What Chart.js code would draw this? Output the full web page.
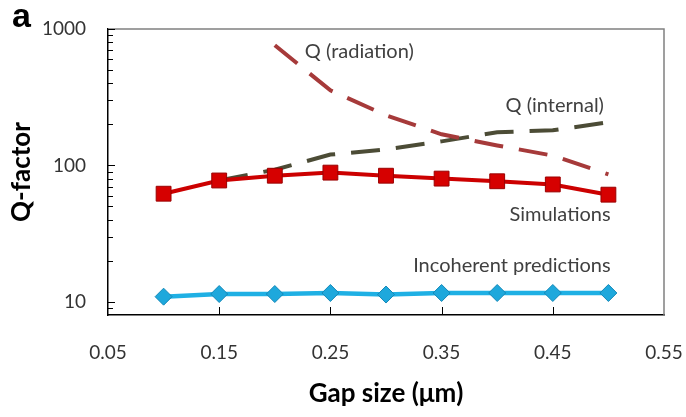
<!DOCTYPE html>
<html>
<head>
<meta charset="utf-8">
<script src="https://cdn.jsdelivr.net/npm/chart.js@4/dist/chart.umd.min.js"></script>
<style>
  html, body { margin: 0; padding: 0; background: #fff; }
  #wrap { width: 686px; height: 417px; }
</style>
</head>
<body>
<div id="wrap"><canvas id="qchart" width="686" height="417"></canvas></div>
<script>
const gapSizes = [0.1, 0.15, 0.2, 0.25, 0.3, 0.35, 0.4, 0.45, 0.5];
const simulations = [62, 77.5, 84, 88.5, 84, 80, 76.5, 72.5, 61];
const incoherent = [10.9, 11.4, 11.4, 11.6, 11.3, 11.6, 11.6, 11.6, 11.6];
const qRadiationGap = [0.2, 0.25, 0.3, 0.35, 0.4, 0.45, 0.5];
const qRadiation = [760, 355, 233, 169, 140, 118, 86];
const qInternalGap = [0.15, 0.2, 0.25, 0.3, 0.35, 0.4, 0.45, 0.5];
const qInternal = [77.5, 93, 120, 131, 150, 175, 181, 207];

const xTicks = [0.05, 0.15, 0.25, 0.35, 0.45, 0.55];
const yMajorTicks = [10, 100, 1000];
const yMinorTicks = [9, 20, 30, 40, 50, 60, 70, 80, 90, 200, 300, 400, 500, 600, 700, 800, 900];

// series labels, placed in data coordinates
const seriesNotes = [
  { text: "Q (radiation)", x: 0.227, y: 680, align: "left" },
  { text: "Q (internal)", x: 0.496, y: 276, align: "right" },
  { text: "Simulations", x: 0.502, y: 43.6, align: "right" },
  { text: "Incoherent predictions", x: 0.502, y: 18.4, align: "right" },
];

const toPoints = (xs, ys) => xs.map((x, i) => ({ x: x, y: ys[i] }));

const noEdgePadding = (scale) => {
  scale.paddingLeft = 0;
  scale.paddingRight = 0;
  scale.paddingTop = 0;
  scale.paddingBottom = 0;
};

const insideTicks = {
  id: "insideTicks",
  beforeDatasetsDraw(chart) {
    const ctx = chart.ctx;
    const area = chart.chartArea;
    const xs = chart.scales.x;
    const ys = chart.scales.y;
    ctx.save();
    // top and right frame in grey
    ctx.strokeStyle = "#808080";
    ctx.lineWidth = 1.5;
    ctx.beginPath();
    ctx.moveTo(area.left, area.top);
    ctx.lineTo(area.right, area.top);
    ctx.lineTo(area.right, area.bottom);
    ctx.stroke();

    ctx.strokeStyle = "#000";
    ctx.lineWidth = 1;
    ctx.beginPath();
    yMajorTicks.concat(yMinorTicks).forEach((v) => {
      const py = Math.round(ys.getPixelForValue(v)) + 0.5;
      const len = yMajorTicks.includes(v) ? 7 : 5;
      ctx.moveTo(area.left, py);
      ctx.lineTo(area.left + len, py);
    });
    xTicks.slice(1, -1).forEach((v) => {
      const px = Math.round(xs.getPixelForValue(v)) + 0.5;
      ctx.moveTo(px, area.bottom);
      ctx.lineTo(px, area.bottom - 8);
    });
    ctx.stroke();
    ctx.restore();
  },
  afterDraw(chart) {
    const ctx = chart.ctx;
    const xs = chart.scales.x;
    const ys = chart.scales.y;
    ctx.save();
    ctx.fillStyle = "#404040";
    ctx.font = "20px Lato";
    ctx.textBaseline = "middle";
    seriesNotes.forEach((n) => {
      ctx.textAlign = n.align;
      ctx.fillText(n.text, xs.getPixelForValue(n.x), ys.getPixelForValue(n.y));
    });
    ctx.fillStyle = "#000";
    ctx.font = "bold 34px 'Liberation Sans'";
    ctx.textAlign = "left";
    ctx.textBaseline = "alphabetic";
    ctx.fillText("a", 12, 27);
    ctx.restore();
  },
};

new Chart(document.getElementById("qchart"), {
  type: "line",
  plugins: [insideTicks],
  data: {
    datasets: [
      {
        label: "Simulations",
        data: toPoints(gapSizes, simulations),
        borderColor: "#cc0000",
        borderWidth: 4,
        pointStyle: "rect",
        pointRadius: 10.5,
        pointBackgroundColor: "#d60000",
        pointBorderColor: "#9a0000",
        pointBorderWidth: 1,
      },
      {
        label: "Incoherent predictions",
        data: toPoints(gapSizes, incoherent),
        borderColor: "#1fb0e4",
        borderWidth: 4.5,
        pointStyle: "rectRot",
        pointRadius: 8.5,
        pointBackgroundColor: "#1ea8dc",
        pointBorderColor: "#1488b8",
        pointBorderWidth: 1,
      },
      {
        label: "Q (radiation)",
        data: toPoints(qRadiationGap, qRadiation),
        borderColor: "#a63a3a",
        borderWidth: 4,
        borderDash: [29, 16],
        pointRadius: 0,
      },
      {
        label: "Q (internal)",
        data: toPoints(qInternalGap, qInternal),
        borderColor: "#4c4c36",
        borderWidth: 4,
        borderDash: [29, 16],
        pointRadius: 0,
      },
    ],
  },
  options: {
    responsive: false,
    animation: false,
    layout: { padding: { top: 29, right: 22, left: 0, bottom: 0 } },
    plugins: {
      legend: { display: false },
      tooltip: { enabled: false },
    },
    scales: {
      x: {
        type: "linear",
        min: 0.05,
        max: 0.55,
        afterBuildTicks: (scale) => {
          scale.ticks = xTicks.map((v) => ({ value: v }));
        },
        afterFit: (scale) => {
          scale.height = 102;
          noEdgePadding(scale);
        },
        grid: { display: false, drawTicks: false },
        border: { display: true, color: "#000", width: 1.5 },
        ticks: {
          autoSkip: false,
          maxRotation: 0,
          padding: 26,
          color: "#333",
          font: { family: "Lato", size: 19 },
          callback: (v) => Number(v).toFixed(2),
        },
        title: {
          display: true,
          text: "Gap size (\u03bcm)",
          color: "#000",
          font: { family: "Lato", size: 26, weight: "bold" },
          padding: { top: 0, bottom: 8 },
        },
      },
      y: {
        type: "logarithmic",
        min: 8,
        max: 1000,
        afterBuildTicks: (scale) => {
          scale.ticks = yMajorTicks.concat(yMinorTicks)
            .sort((a, b) => a - b)
            .map((v) => ({ value: v }));
        },
        afterFit: (scale) => {
          scale.width = 108;
          noEdgePadding(scale);
        },
        grid: { display: false, drawTicks: false },
        border: { display: true, color: "#000", width: 1.5 },
        ticks: {
          autoSkip: false,
          padding: 22,
          color: "#333",
          font: { family: "Lato", size: 19 },
          callback: (v) => (yMajorTicks.includes(v) ? String(v) : ""),
        },
        title: {
          display: true,
          text: "Q-factor",
          color: "#000",
          font: { family: "Lato", size: 26, weight: "bold" },
          padding: { top: 6, bottom: 0 },
        },
      },
    },
  },
});
</script>
</body>
</html>
